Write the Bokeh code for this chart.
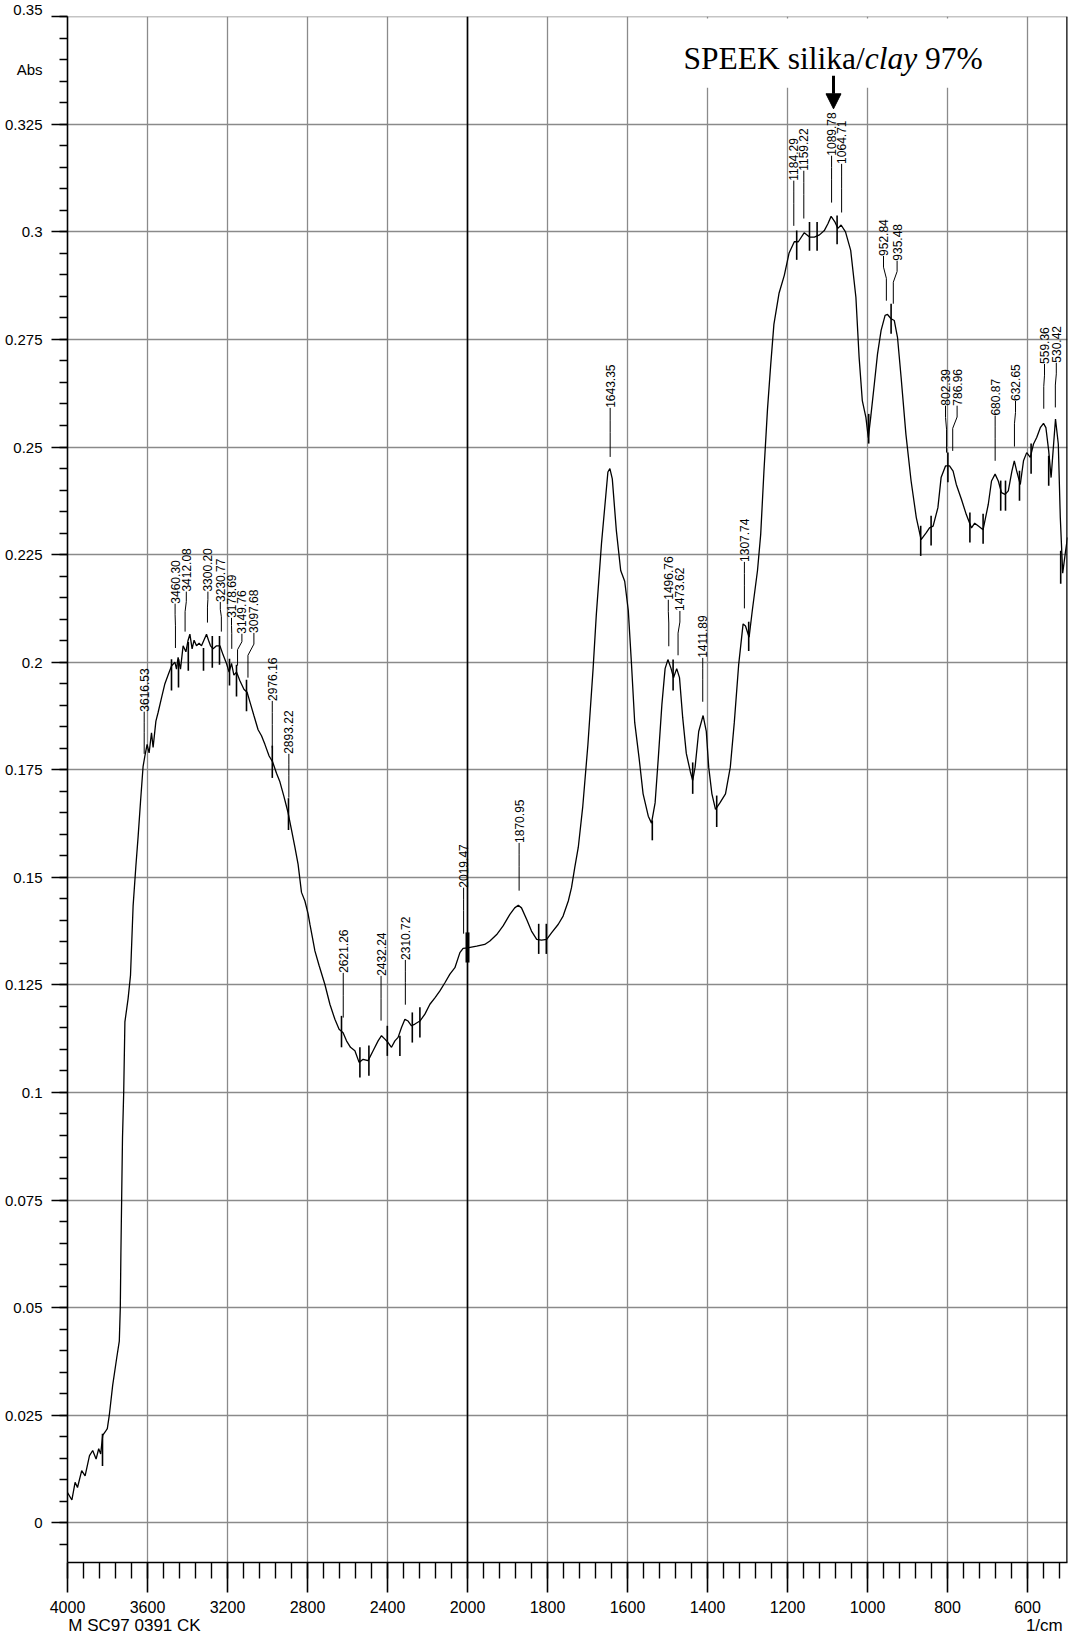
import numpy as np
from bokeh.plotting import figure
from bokeh.models import (Range1d, FixedTicker, CustomJSTickFormatter, Span, Label, LinearAxis,
                          BoxAnnotation, Arrow, NormalHead)
from bokeh.embed import file_html
from bokeh.resources import INLINE
from bokeh.core.properties import value

# ---------------- data ----------------
wavenumber = [4000, 3978, 3962, 3950, 3929, 3912, 3890, 3874, 3857, 3844, 3834, 3824, 3812, 3801,
              3791, 3774, 3754, 3741, 3736, 3733, 3729, 3725, 3719, 3713, 3697, 3685, 3672, 3658,
              3647, 3635, 3622, 3613, 3602, 3592, 3580, 3572, 3558, 3547, 3530, 3513, 3497, 3480,
              3463, 3455, 3447, 3435, 3422, 3408, 3397, 3388, 3377, 3367, 3355, 3342, 3330, 3318,
              3305, 3295, 3285, 3272, 3255, 3238, 3222, 3205, 3192, 3180, 3168, 3155, 3138, 3118,
              3102, 3085, 3068, 3047, 3030, 3013, 2992, 2975, 2955, 2938, 2918, 2897, 2880, 2863,
              2847, 2830, 2813, 2797, 2788, 2772, 2763, 2742, 2713, 2688, 2663, 2642, 2622, 2605,
              2585, 2563, 2542, 2522, 2497, 2472, 2447, 2430, 2413, 2397, 2380, 2363, 2347, 2330,
              2313, 2297, 2280, 2263, 2238, 2213, 2188, 2163, 2138, 2113, 2088, 2063, 2038, 2022,
              2000, 1977, 1957, 1944, 1927, 1911, 1894, 1882, 1873, 1865, 1852, 1840, 1827, 1815,
              1802, 1790, 1773, 1761, 1748, 1740, 1732, 1723, 1712, 1699, 1686, 1678, 1665, 1657,
              1649, 1644, 1638, 1628, 1617, 1607, 1598, 1590, 1582, 1571, 1561, 1548, 1540, 1531,
              1523, 1514, 1506, 1499, 1491, 1485, 1477, 1470, 1462, 1453, 1443, 1437, 1431, 1422,
              1411, 1403, 1397, 1389, 1380, 1369, 1355, 1343, 1333, 1322, 1311, 1305, 1296, 1288,
              1275, 1267, 1259, 1250, 1242, 1234, 1221, 1208, 1196, 1183, 1173, 1158, 1145, 1133,
              1120, 1108, 1099, 1091, 1082, 1074, 1066, 1055, 1042, 1029, 1021, 1013, 1004, 998,
              992, 983, 975, 966, 956, 950, 941, 933, 925, 916, 904, 891, 878, 866, 853, 845, 836,
              824, 816, 805, 795, 786, 778, 765, 753, 740, 732, 722, 711, 698, 690, 681, 673, 665,
              656, 648, 639, 633, 627, 618, 610, 602, 593, 585, 577, 568, 560, 554, 547, 541, 536,
              530, 523, 518, 512, 505, 500]
absorbance = [0.0070, 0.0053, 0.0094, 0.0082, 0.0121, 0.0109, 0.0156, 0.0168, 0.0148, 0.0172,
              0.0160, 0.0203, 0.0211, 0.0219, 0.0250, 0.0320, 0.0383, 0.0422, 0.0500, 0.0626,
              0.0760, 0.0895, 0.1000, 0.1164, 0.1218, 0.1272, 0.1433, 0.1527, 0.1594, 0.1675,
              0.1758, 0.1782, 0.1809, 0.1789, 0.1836, 0.1802, 0.1863, 0.1883, 0.1917, 0.1950,
              0.1970, 0.1991, 0.2000, 0.1984, 0.2011, 0.1984, 0.2038, 0.2024, 0.2051, 0.2065,
              0.2031, 0.2051, 0.2038, 0.2044, 0.2038, 0.2051, 0.2065, 0.2051, 0.2038, 0.2031,
              0.2038, 0.2038, 0.2017, 0.1997, 0.1977, 0.1997, 0.1970, 0.1977, 0.1957, 0.1937,
              0.1930, 0.1903, 0.1876, 0.1843, 0.1829, 0.1809, 0.1782, 0.1769, 0.1742, 0.1722,
              0.1688, 0.1650, 0.1610, 0.1570, 0.1530, 0.1465, 0.1445, 0.1415, 0.1391, 0.1352,
              0.1329, 0.1295, 0.1251, 0.1205, 0.1170, 0.1147, 0.1139, 0.1120, 0.1105, 0.1097,
              0.1070, 0.1077, 0.1074, 0.1097, 0.1120, 0.1132, 0.1124, 0.1116, 0.1105, 0.1120,
              0.1128, 0.1151, 0.1170, 0.1166, 0.1155, 0.1159, 0.1166, 0.1182, 0.1205, 0.1220,
              0.1236, 0.1255, 0.1275, 0.1290, 0.1325, 0.1335, 0.1336, 0.1340, 0.1344, 0.1352,
              0.1367, 0.1387, 0.1414, 0.1429, 0.1435, 0.1429, 0.1402, 0.1375, 0.1356, 0.1354,
              0.1356, 0.1371, 0.1391, 0.1410, 0.1445, 0.1476, 0.1522, 0.1570, 0.1663, 0.1808,
              0.1985, 0.2110, 0.2276, 0.2359, 0.2442, 0.2450, 0.2426, 0.2307, 0.2213, 0.2188,
              0.2120, 0.1995, 0.1860, 0.1777, 0.1694, 0.1642, 0.1626, 0.1673, 0.1777, 0.1902,
              0.1985, 0.2006, 0.1985, 0.1964, 0.1985, 0.1964, 0.1871, 0.1788, 0.1746, 0.1725,
              0.1756, 0.1839, 0.1876, 0.1839, 0.1756, 0.1694, 0.1658, 0.1673, 0.1694, 0.1756,
              0.1860, 0.1995, 0.2089, 0.2084, 0.2058, 0.2120, 0.2213, 0.2297, 0.2442, 0.2588,
              0.2691, 0.2785, 0.2858, 0.2899, 0.2951, 0.2977, 0.2977, 0.2998, 0.2988, 0.2988,
              0.2993, 0.3003, 0.3019, 0.3036, 0.3024, 0.3008, 0.3016, 0.3000, 0.2957, 0.2848,
              0.2709, 0.2608, 0.2569, 0.2522, 0.2569, 0.2646, 0.2716, 0.2771, 0.2806, 0.2808,
              0.2798, 0.2794, 0.2755, 0.2662, 0.2530, 0.2421, 0.2336, 0.2285, 0.2301, 0.2312,
              0.2316, 0.2359, 0.2429, 0.2456, 0.2456, 0.2444, 0.2413, 0.2378, 0.2343, 0.2312,
              0.2323, 0.2316, 0.2308, 0.2367, 0.2421, 0.2437, 0.2421, 0.2394, 0.2390, 0.2398,
              0.2444, 0.2468, 0.2444, 0.2413, 0.2468, 0.2487, 0.2476, 0.2507, 0.2522, 0.2545,
              0.2555, 0.2545, 0.2491, 0.2429, 0.2491, 0.2565, 0.2507, 0.2336, 0.2207, 0.2257,
              0.2290]

# labelled peaks: wavenumber, label text, label column (wavenumber), label foot and leader end (Abs)
peak_wn = [3616.53, 3460.30, 3412.08, 3300.20, 3230.77, 3178.69, 3149.76, 3097.68, 2976.16,
           2893.22, 2621.26, 2432.24, 2310.72, 2019.47, 1870.95, 1643.35, 1496.76, 1473.62,
           1411.89, 1307.74, 1184.29, 1159.22, 1089.78, 1064.71, 952.84, 935.48, 802.39,
           786.96, 680.87, 632.65, 559.36, 530.42]
peak_text = ["3616.53", "3460.30", "3412.08", "3300.20", "3230.77", "3178.69", "3149.76",
             "3097.68", "2976.16", "2893.22", "2621.26", "2432.24", "2310.72", "2019.47",
             "1870.95", "1643.35", "1496.76", "1473.62", "1411.89", "1307.74", "1184.29",
             "1159.22", "1089.78", "1064.71", "952.84", "935.48", "802.39", "786.96",
             "680.87", "632.65", "559.36", "530.42"]
label_wn = [3616.53, 3462, 3406, 3298, 3236, 3180, 3128, 3068, 2976.16,
            2893.22, 2621.26, 2432.24, 2310.72, 2019.47, 1870.95, 1643.35, 1498, 1469,
            1411.89, 1307.74, 1184.29, 1159.22, 1089.78, 1064.71, 960, 926, 805,
            776, 680.87, 630, 557.5, 528]
label_foot = [0.1885, 0.2136, 0.2164, 0.2164, 0.2140, 0.2103, 0.2066, 0.2068, 0.1910, 0.1787,
              0.1278, 0.1271, 0.1308, 0.1476, 0.1580, 0.2591, 0.2145, 0.2119, 0.2010, 0.2233,
              0.3119, 0.3142, 0.3177, 0.3158, 0.2944, 0.2933, 0.2596, 0.2596, 0.2573, 0.2607,
              0.2693, 0.2696]
leader_end = [0.1787, 0.2033, 0.2071, 0.2092, 0.2071, 0.2031, 0.1992, 0.1964, 0.1801, 0.1685,
              0.1174, 0.1167, 0.1204, 0.1369, 0.1469, 0.2477, 0.2037, 0.2016, 0.1908, 0.2125,
              0.3014, 0.3031, 0.3068, 0.3045, 0.2840, 0.2833, 0.2487, 0.2491, 0.2468, 0.2501,
              0.2589, 0.2592]

# short peak/valley marker bars
mark_wn = [3825, 3480, 3445, 3396, 3320, 3276, 3240, 3190, 3155, 3105, 2976, 2895, 2630, 2538,
           2493, 2401, 2338, 2276, 2238, 2006, 1997, 1822, 1803, 1538, 1486, 1437, 1377, 1297,
           1177, 1145, 1126, 1076, 997, 941, 867, 841, 799, 744, 711, 667, 655, 620, 591, 547,
           517]
mark_top = [0.0207, 0.2007, 0.2007, 0.2047, 0.2033, 0.2061, 0.2061, 0.2008, 0.1994, 0.1959,
            0.1806, 0.1684, 0.1178, 0.1105, 0.1109, 0.1155, 0.1132, 0.1186, 0.1198, 0.1372,
            0.1372, 0.1392, 0.1392, 0.1632, 0.2006, 0.1767, 0.1690, 0.2094, 0.3003, 0.3023,
            0.3023, 0.3038, 0.2577, 0.2833, 0.2317, 0.2340, 0.2487, 0.2348, 0.2345, 0.2422,
            0.2422, 0.2445, 0.2508, 0.2480, 0.2259]
mark_bottom = [0.0132, 0.1934, 0.1941, 0.1980, 0.1980, 0.1987, 0.1994, 0.1946, 0.1920, 0.1886,
               0.1731, 0.1610, 0.1105, 0.1035, 0.1039, 0.1085, 0.1085, 0.1116, 0.1128, 0.1302,
               0.1302, 0.1322, 0.1322, 0.1586, 0.1934, 0.1694, 0.1617, 0.2026, 0.2935, 0.2956,
               0.2956, 0.2971, 0.2508, 0.2763, 0.2247, 0.2271, 0.2418, 0.2278, 0.2275, 0.2352,
               0.2352, 0.2375, 0.2438, 0.2410, 0.2182]

xtick_wn = [4000, 3600, 3200, 2800, 2400, 2000, 1800, 1600, 1400, 1200, 1000, 800, 600]
ytick_abs = [round(0.025 * i, 3) for i in range(15)]
y_title = "Abs"
x_title = "1/cm"
sample_id = "M SC97 0391 CK"


# Shimadzu style axis: 4000-2000 compressed to half scale
def to_u(wn):
    arr = np.asarray(wn, dtype=float)
    return np.where(arr > 2000, 2000 + (arr - 2000) / 2.0, arr)


NARROW = "Liberation Sans Narrow, Liberation Sans"

p = figure(width=1070, height=1640, x_range=Range1d(3000, 500), y_range=Range1d(-0.00923, 0.35005),
           output_backend="svg", toolbar_location=None,
           min_border_left=67, min_border_right=3, min_border_top=16, min_border_bottom=78)
p.outline_line_color = None
p.background_fill_color = "white"

# axes
p.xaxis.ticker = FixedTicker(ticks=list(to_u(xtick_wn)),
                             minor_ticks=list(np.arange(3000, 510, -40.0)))
p.xaxis.formatter = CustomJSTickFormatter(
    code="const w = tick > 2000 ? 2000 + (tick - 2000) * 2 : tick; return Math.round(w).toString();")
p.yaxis.ticker = FixedTicker(ticks=ytick_abs,
                             minor_ticks=[round(0.005 * i, 3) for i in range(-1, 71)])
# the "Abs" caption rides two lines below the top tick label
p.yaxis.formatter = CustomJSTickFormatter(
    args=dict(cap=y_title, top=max(ytick_abs)),
    code="const s = (Math.round(tick * 1000) / 1000).toString();"
         "if (Math.abs(tick - top) < 1e-6) { return s + '\\n\\n' + cap; }"
         "return s;")

for ax in (p.xaxis[0], p.yaxis[0]):
    ax.axis_line_color = "black"
    ax.axis_line_width = 1.6
    ax.major_tick_line_color = "black"
    ax.major_tick_line_width = 1.6
    ax.minor_tick_line_color = "black"
    ax.minor_tick_line_width = 1.4
    ax.major_tick_in = 0
    ax.minor_tick_in = 0
    ax.major_label_text_font = NARROW
    ax.major_label_text_color = "black"

p.xaxis.major_label_standoff = 8
p.yaxis.major_label_standoff = 9
p.xaxis.major_label_text_font_size = "16px"
p.yaxis.major_label_text_font_size = "15px"
p.yaxis.major_label_text_line_height = 1.77
p.xaxis.major_tick_out = 30
p.xaxis.minor_tick_out = 16
p.yaxis.major_tick_out = 16
p.yaxis.minor_tick_out = 8

# sample id and unit: a second, line-less axis stacked under the x axis
cap_ticks = [float(to_u(3665)), float(to_u(558))]
cap_ax = LinearAxis(
    ticker=FixedTicker(ticks=cap_ticks, minor_ticks=[]),
    formatter=CustomJSTickFormatter(args=dict(t=[sample_id, x_title], k=cap_ticks),
                                    code="let i = 0; let d = 1e12;"
                                         "for (let j = 0; j < k.length; j++) {"
                                         " const e = Math.abs(k[j] - tick);"
                                         " if (e < d) { d = e; i = j; } }"
                                         "return t[i];"),
    axis_line_color=None, major_tick_line_color=None, minor_tick_line_color=None,
    major_tick_out=0, major_tick_in=0, minor_tick_out=0, minor_tick_in=0,
    major_label_standoff=0, major_label_text_font=NARROW, major_label_text_font_size="17px",
    major_label_text_color="black")
p.add_layout(cap_ax, "below")

p.xgrid.grid_line_color = "#8a8a8a"
p.ygrid.grid_line_color = "#8a8a8a"
p.xgrid.grid_line_width = 1.3
p.ygrid.grid_line_width = 1.3

p.add_layout(Span(location=2000, dimension="height", line_color="black", line_width=1.6))
p.add_layout(Span(location=500, dimension="height", line_color="black", line_width=2.5))

# white box behind the title
p.add_layout(BoxAnnotation(left=float(to_u(1540)), right=float(to_u(660)), bottom=0.3335, top=0.3496,
                           fill_color="white", fill_alpha=1.0, line_color=None))

# spectrum
p.line(to_u(wavenumber), absorbance, line_color="black", line_width=1.3)

# marker bars
mu = to_u(mark_wn)
p.segment(x0=mu, y0=mark_top, x1=mu, y1=mark_bottom, line_color="black", line_width=1.6)

# peak leaders (vertical, with a bend from label column to the peak) and labels
pu = to_u(peak_wn)
lu = to_u(label_wn)
lead_x, lead_y = [], []
for lx, px, f, e in zip(lu, pu, label_foot, leader_end):
    d = f - e
    lead_x.append([lx, lx, px, px])
    lead_y.append([f, f - 0.25 * d, f - 0.5 * d, e])
p.multi_line(xs=lead_x, ys=lead_y, line_color="black", line_width=1.0)
p.text(x=lu, y=label_foot, text=peak_text, angle=np.pi / 2, text_align="left",
       text_baseline="middle", text_font=value("Liberation Sans"), text_font_size="12px",
       text_color="black")

# title
TY = 0.3404
p.add_layout(Label(x=float(to_u(1460)), y=TY, text="SPEEK silika/", text_font="Liberation Serif",
                   text_font_size="31.5px", text_baseline="alphabetic", text_color="black"))
p.add_layout(Label(x=float(to_u(1007)), y=TY, text="clay", text_font="Liberation Serif",
                   text_font_style="italic", text_font_size="31.5px", text_baseline="alphabetic",
                   text_color="black"))
p.add_layout(Label(x=float(to_u(856)), y=TY, text="97%", text_font="Liberation Serif",
                   text_font_size="31.5px", text_baseline="alphabetic", text_color="black"))
p.add_layout(Arrow(end=NormalHead(size=15, fill_color="black", line_color="black"),
                   x_start=float(to_u(1085)), y_start=0.3363, x_end=float(to_u(1085)), y_end=0.3286,
                   line_width=3, line_color="black"))

open("out.html", "w").write(file_html(p, INLINE))
